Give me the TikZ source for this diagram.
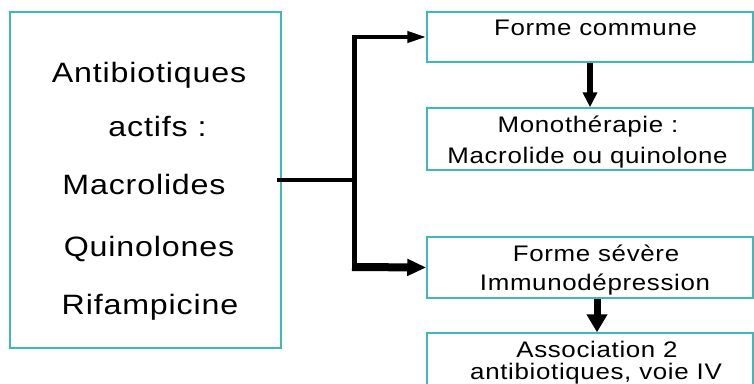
\documentclass[tikz,border=0pt]{standalone}
\usepackage{fontspec}
\setmainfont{Liberation Sans}[FakeStretch=1.15,LetterSpace=3]
\usetikzlibrary{arrows.meta}
\definecolor{boxteal}{RGB}{64,184,184}
\tikzset{
  box/.style={draw=boxteal, line width=1.5pt, minimum width=#1, inner sep=0pt},
  bigtxt/.style={anchor=base, inner sep=0pt, font=\fontsize{28}{30}\selectfont},
  smtxt/.style={anchor=base, inner sep=0pt, font=\fontsize{22.5}{24}\selectfont},
  conn/.style={line width=#1, black},
}
\begin{document}
\begin{tikzpicture}[x=1pt,y=-1pt]
\useasboundingbox (0,0) rectangle (754,383);
\clip (0,0) rectangle (754,383);
% left box
\node[box=271pt, minimum height=336pt] (L) at (145.5,180) {};
\node[bigtxt] (l1) at (149,82) {Antibiotiques};
\node[bigtxt] (l2) at (157.5,136) {actifs :};
\node[bigtxt] (l3) at (144,194) {Macrolides};
\node[bigtxt] (l4) at (149,256) {Quinolones};
\node[bigtxt] (l5) at (150,314) {Rifampicine};
% right boxes
\node[box=326pt, minimum height=50pt] (F1) at (590,37) {};
\node[smtxt] (t1) at (595.5,35) {Forme commune};
\node[box=326pt, minimum height=62pt] (M2) at (590,139) {};
\node[smtxt] (t2a) at (588,132) {Monothérapie :};
\node[smtxt] (t2b) at (587.5,163) {Macrolide ou quinolone};
\node[box=326pt, minimum height=61pt] (F3) at (590,267.5) {};
\node[smtxt] (t3a) at (596,261) {Forme sévère};
\node[smtxt] (t3b) at (595,290) {Immunodépression};
\node[box=326pt, minimum height=70pt] (A4) at (590,368) {};
\node[smtxt] (t4a) at (597,357) {Association 2};
\node[smtxt] (t4b) at (596,379) {antibiotiques, voie IV};
% connectors
\coordinate (J) at (354,180);
\coordinate (T) at (354,37);
\coordinate (B) at (354,267);
\draw[conn=4pt] ([xshift=-5pt]L.east) -- (J);
\draw[conn=5pt] ([yshift=-2pt]T) -- ([yshift=2pt]B);
\draw[conn=4pt, -{Triangle[length=19pt,width=11pt]}] ([xshift=-2pt]T) -- (F1.west);
\draw[conn=8pt, -{Triangle[length=19pt,width=16pt]}] ([xshift=-2pt]B) -- (F3.west);
\draw[conn=6pt, -{Triangle[length=15pt,width=14pt]}] (F1.south) -- (M2.north);
\draw[conn=7pt, -{Triangle[length=18pt,width=20pt]}] ([xshift=7pt]F3.south) -- ([xshift=7pt]A4.north);
\end{tikzpicture}
\end{document}
